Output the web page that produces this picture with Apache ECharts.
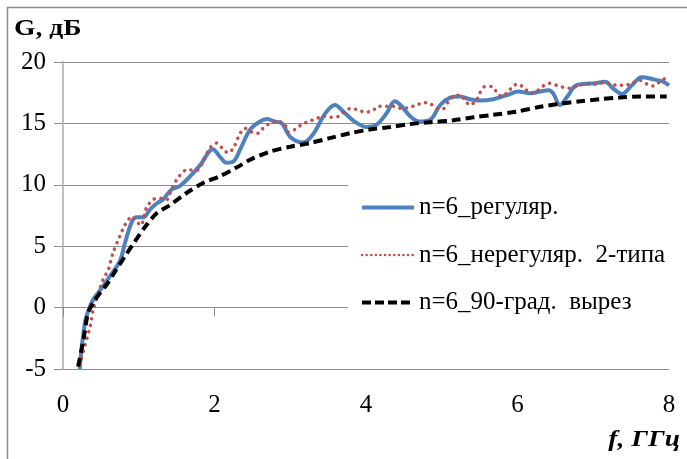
<!DOCTYPE html>
<html>
<head>
<meta charset="utf-8">
<script src="https://cdn.jsdelivr.net/npm/echarts@6/dist/echarts.min.js"></script>
<style>
html,body{margin:0;padding:0;background:#fff;}
#chart{width:687px;height:459px;}
</style>
</head>
<body>
<div id="chart"></div>
<script>
// ---- data ----
const yTicks = [-5, 0, 5, 10, 15, 20];
const xTicks = [0, 2, 4, 6, 8];

const regX = [0.22,0.29,0.35,0.40,0.50,0.62,0.75,0.82,0.91,0.97,1.06,1.15,1.24,1.32,1.43,1.54,1.68,1.81,1.98,2.07,2.16,2.25,2.34,2.47,2.60,2.69,2.80,2.89,3.00,3.17,3.30,3.46,3.59,3.70,3.85,4.01,4.14,4.27,4.38,4.47,4.58,4.71,4.85,4.98,5.11,5.24,5.37,5.50,5.68,5.86,6.01,6.17,6.30,6.41,6.47,6.56,6.67,6.76,6.87,7.02,7.16,7.26,7.38,7.51,7.64,7.79,7.92,8.00];
const regY = [-5.0,-1.2,0.0,0.67,1.5,2.57,3.78,5.3,7.0,7.35,7.35,8.0,8.5,8.8,9.6,9.9,10.7,11.6,12.9,12.3,11.8,11.9,12.9,14.5,15.15,15.35,15.15,15.0,13.9,13.45,14.1,15.8,16.5,15.96,15.15,14.7,14.9,15.8,16.8,16.4,15.6,15.15,15.3,16.5,17.1,17.2,16.97,16.86,16.97,17.3,17.6,17.45,17.6,17.7,17.45,16.5,17.3,18.05,18.2,18.27,18.4,17.86,17.4,18.1,18.76,18.6,18.4,18.1];

const irrX = [0.22,0.36,0.40,0.53,0.60,0.66,0.75,0.82,0.91,0.99,1.03,1.10,1.19,1.28,1.37,1.43,1.50,1.63,1.77,1.85,1.94,2.03,2.12,2.18,2.25,2.34,2.40,2.49,2.58,2.64,2.73,2.84,2.93,2.97,3.06,3.15,3.24,3.35,3.44,3.52,3.63,3.70,3.79,3.90,3.99,4.10,4.16,4.27,4.38,4.47,4.56,4.67,4.76,4.85,4.94,5.02,5.09,5.15,5.24,5.31,5.37,5.46,5.50,5.57,5.66,5.72,5.79,5.88,5.94,6.01,6.10,6.19,6.27,6.34,6.43,6.52,6.63,6.72,6.80,6.93,7.02,7.11,7.20,7.31,7.42,7.51,7.62,7.71,7.79,7.88,7.97];
const irrY = [-4.6,-1.5,-0.15,2.3,3.1,4.45,5.8,6.76,7.4,6.9,6.7,8.1,8.8,8.9,8.8,9.6,10.4,11.2,11.2,11.9,13.0,13.4,12.85,12.6,13.0,14.2,14.6,14.3,14.2,14.6,15.0,15.15,14.9,14.3,14.5,14.9,15.15,15.4,15.6,15.5,15.56,15.9,16.2,16.1,15.9,16.1,16.4,16.4,16.4,16.2,16.3,16.5,16.7,16.6,16.2,16.2,16.8,17.2,17.3,16.86,16.5,16.9,17.45,18.0,18.0,17.6,17.2,17.6,18.05,18.2,17.8,17.45,17.7,18.05,18.27,18.1,17.9,17.86,18.1,18.2,18.2,18.3,18.3,18.1,18.1,18.3,18.5,18.2,18.05,18.4,18.76];

const cutX = [0.20,0.27,0.33,0.40,0.49,0.58,0.69,0.82,0.95,1.10,1.24,1.40,1.63,1.85,2.07,2.29,2.47,2.73,3.00,3.26,3.52,3.79,4.05,4.32,4.58,4.85,5.15,5.42,5.68,5.99,6.30,6.56,6.83,7.09,7.35,7.62,7.97];
const cutY = [-4.8,-2.6,-0.45,0.4,1.2,1.9,2.97,4.2,5.4,6.7,7.7,8.3,9.33,10.15,10.7,11.4,12.04,12.7,13.1,13.4,13.8,14.2,14.5,14.7,14.95,15.1,15.25,15.5,15.7,15.96,16.35,16.6,16.8,16.97,17.1,17.2,17.2];

const seriesNames = ['n=6_регуляр.', 'n=6_нерегуляр.  2-типа', 'n=6_90-град.  вырез'];
const yTitle = 'G, дБ';
const xTitle = 'f, ГГц';

const zip = (xs, ys) => xs.map((x, i) => [x, ys[i]]);
const FONT = "'Liberation Serif', 'DejaVu Serif', serif";

const blueStyle = {color: '#4F81BD', width: 4};
const redStyle = {color: '#C0504D', width: 3.5, type: [0.1, 6.6], cap: 'round'};
const blackStyle = {color: '#000', width: 4, type: [9, 5]};

const chart = echarts.init(document.getElementById('chart'), null, {renderer: 'canvas'});
chart.setOption({
  animation: false,
  backgroundColor: '#fff',
  textStyle: {fontFamily: FONT},
  grid: {left: 63, right: 18, top: 62, bottom: 90},
  xAxis: [
    {
      type: 'value', min: xTicks[0], max: xTicks[xTicks.length - 1], interval: 2,
      axisLine: {show: true, onZero: true, lineStyle: {color: '#8e8e8e', width: 1}},
      axisTick: {show: true, inside: false, length: 9, lineStyle: {color: '#8e8e8e'}},
      axisLabel: {show: false},
      splitLine: {show: false}
    },
    {
      type: 'value', min: xTicks[0], max: xTicks[xTicks.length - 1], interval: 2,
      position: 'bottom',
      axisLine: {show: false, onZero: false},
      axisTick: {show: false},
      axisLabel: {show: true, margin: 24, color: '#000', fontFamily: FONT, fontSize: 25},
      splitLine: {show: false}
    }
  ],
  yAxis: {
    type: 'value', min: yTicks[0], max: yTicks[yTicks.length - 1], interval: 5,
    axisLine: {show: true, lineStyle: {color: '#b8b8b8', width: 1.8}},
    axisTick: {show: true, length: 9, lineStyle: {color: '#8e8e8e'}},
    axisLabel: {margin: 17, color: '#000', fontFamily: FONT, fontSize: 25},
    splitLine: {show: true, lineStyle: {color: '#8e8e8e', width: 1}}
  },
  legend: {
    orient: 'vertical',
    left: 348, top: 183,
    padding: [12, 12, 12, 12],
    backgroundColor: '#fff',
    itemWidth: 52, itemHeight: 14, itemGap: 22.5,
    itemStyle: {opacity: 0},
    textStyle: {color: '#000', fontFamily: FONT, fontSize: 25, lineHeight: 24},
    data: [
      {name: seriesNames[0], lineStyle: {width: 4}},
      {name: seriesNames[1], lineStyle: {width: 2.5, type: [0.1, 4.5], cap: 'round'}},
      {name: seriesNames[2], lineStyle: {width: 4, type: [9, 4]}}
    ]
  },
  series: [
    {
      name: seriesNames[0], type: 'line', xAxisIndex: 0, data: zip(regX, regY),
      smooth: 0.35, symbol: 'none', color: '#4F81BD', lineStyle: blueStyle
    },
    {
      name: seriesNames[1], type: 'line', xAxisIndex: 0, data: zip(irrX, irrY),
      smooth: 0.3, symbol: 'none', color: '#C0504D', lineStyle: redStyle
    },
    {
      name: seriesNames[2], type: 'line', xAxisIndex: 0, data: zip(cutX, cutY),
      smooth: 0.3, symbol: 'none', color: '#000', lineStyle: blackStyle
    }
  ],
  graphic: [
    {type: 'rect', shape: {x: 7.5, y: 7.5, width: 720, height: 500},
     style: {fill: 'none', stroke: '#8a8a8a', lineWidth: 1.5}, silent: true, z: 0},
    {type: 'text', x: 14, y: 29, scaleX: 1.15,
     style: {text: yTitle, fontFamily: FONT, fontSize: 24, fontWeight: 'bold', fill: '#000', verticalAlign: 'middle', align: 'left'}},
    {type: 'text', x: 680, y: 440, scaleX: 1.15,
     style: {text: xTitle, fontFamily: FONT, fontSize: 24, fontWeight: 'bold', fontStyle: 'italic', fill: '#000', verticalAlign: 'middle', align: 'right'}}
  ]
});
</script>
</body>
</html>
